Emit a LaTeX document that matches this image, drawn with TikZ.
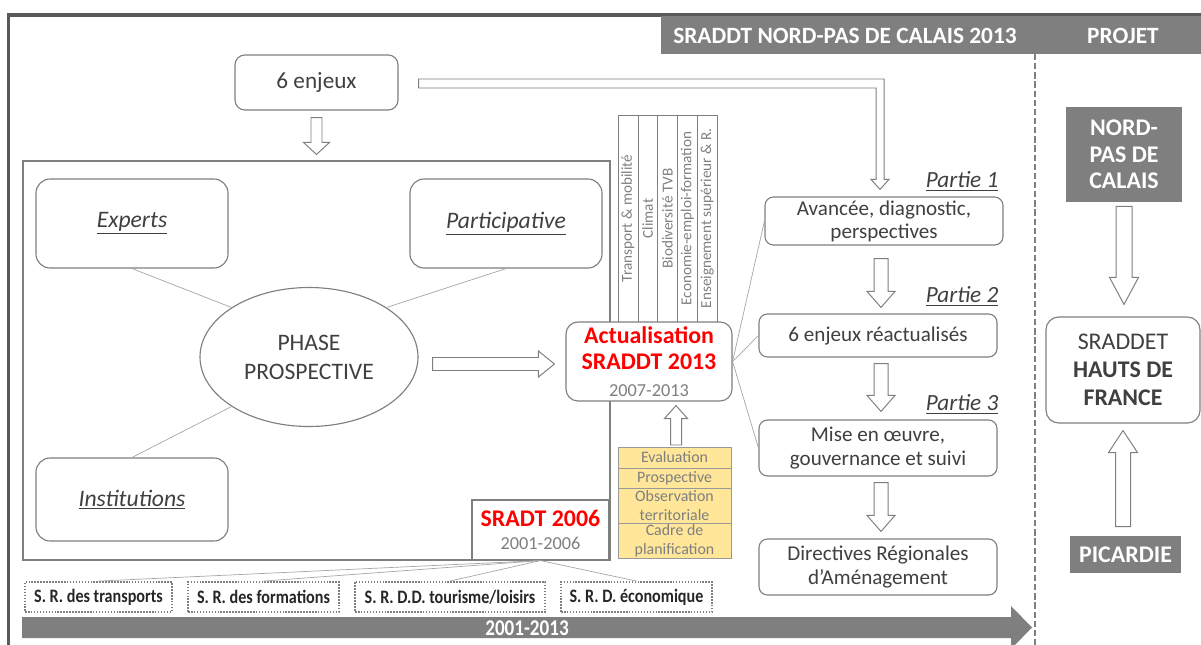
\documentclass[tikz,border=0pt]{standalone}
\usepackage{fontspec}
\setmainfont{Carlito}
\newfontfamily\narrowfont[FakeStretch=0.85]{Carlito}
\usetikzlibrary{positioning,calc,shapes.geometric}
\definecolor{sgray}{HTML}{7F7F7F}
\definecolor{sdark}{HTML}{404040}
\definecolor{sframe}{HTML}{595959}
\definecolor{sline}{HTML}{A6A6A6}
\definecolor{sred}{HTML}{FF0000}
\definecolor{syellow}{HTML}{FFE699}
\definecolor{sink}{HTML}{262626}
\newdimen\pxu \pxu=0.025cm
\tikzset{
  rbox/.style={draw=sgray,fill=white,rounded corners=6pt,line width=0.8pt,align=center,text=sdark,inner sep=2pt,font=\fontsize{15}{17}\selectfont},
  sbox/.style={draw=sgray,fill=white,line width=0.8pt,align=center,inner sep=2pt},
  ibox/.style={rbox,rounded corners=10pt,minimum width=192\pxu,font=\itshape\fontsize{16.8}{19}\selectfont},
  tabcol/.style={draw=sgray,rotate=90,minimum width=207\pxu,minimum height=19.8\pxu,inner sep=0pt,text=sgray,font=\fontsize{10.8}{12}\selectfont},
  ybox/.style={draw=sgray!80,fill=syellow,minimum width=113\pxu,inner sep=0pt,outer sep=0pt,align=center,text=sgray,font=\fontsize{11.3}{13.5}\selectfont},
  dbox/.style={draw=sgray,line width=1.3pt,dash pattern=on 1.1pt off 1pt,minimum height=30\pxu,inner sep=0pt,text=sink,font=\narrowfont\bfseries\fontsize{13.5}{15}\selectfont},
  dkbox/.style={fill=sgray,text=white,align=center,inner sep=0pt,font=\bfseries\fontsize{17}{19}\selectfont},
  partie/.style={anchor=east,inner sep=0pt,text=sdark,font=\itshape\fontsize{16.5}{19}\selectfont},
  hollow/.style={draw=sgray,fill=white,line width=0.7pt,line join=miter},
  link/.style={draw=sline,line width=0.5pt},
}
% hollow block arrow: from, to, shaft half width, head half width, head length (px)
\newcommand{\blockarr}[5]{%
  \coordinate (ba-s) at #1;
  \coordinate (ba-e) at #2;
  \coordinate (ba-h) at ($(ba-e)!#5*0.025cm!(ba-s)$);
  \draw[hollow] ($(ba-s)!#3*0.025cm!90:(ba-e)$) -- ($(ba-h)!#3*0.025cm!90:(ba-e)$)
    -- ($(ba-h)!#4*0.025cm!90:(ba-e)$) -- (ba-e) -- ($(ba-h)!#4*0.025cm!-90:(ba-e)$)
    -- ($(ba-h)!#3*0.025cm!-90:(ba-e)$) -- ($(ba-s)!#3*0.025cm!-90:(ba-e)$) -- cycle;}

\begin{document}
\begin{tikzpicture}[x=0.025cm,y=-0.025cm]
  \useasboundingbox (0,0) rectangle (1201,644);
  % frame and header
  \draw[sframe,line width=2.2pt] (8.5,660) -- (8.5,15) -- (1220,15);
  \fill[sgray] (661,16) rectangle (1201,54);
  \node[text=white,font=\bfseries\fontsize{16.6}{19}\selectfont] (hdr1) at (845,35.5) {SRADDT NORD-PAS DE CALAIS 2013};
  \node[text=white,font=\bfseries\fontsize{16.6}{19}\selectfont] (hdr2) at (1123,35.5) {PROJET};
  \draw[sgray,line width=1.4pt,dash pattern=on 4.5pt off 2pt] (1035,54) -- (1035,660);

  % left part
  \node[rbox,rounded corners=7pt,minimum width=163\pxu,minimum height=55\pxu,font=\fontsize{16.5}{19}\selectfont] (enjeux) at (316.5,82.5) {6 enjeux};
  \node[sbox,minimum width=587\pxu,minimum height=399\pxu] (prosp) at (316.5,360.5) {};
  \node[ibox,minimum height=89\pxu] (experts) at (132,223.5) {\underline{Experts}};
  \node[ibox,minimum height=89\pxu] (particip) at (506,223.5) {\underline{Participative}};
  \node[ibox,minimum height=83\pxu] (instit) at (132,499.5) {\underline{Institutions}};
  \node[ellipse,draw=sgray,fill=white,line width=0.8pt,minimum width=218\pxu,minimum height=139\pxu,align=center,text=sdark,font=\fontsize{16.8}{20.5}\selectfont] (phase) at (309,357) {PHASE\\PROSPECTIVE};
  \draw[link] (experts.south) -- (phase.north west);
  \draw[link] (particip.south) -- (phase.north east);
  \draw[link] (instit.north) -- (phase.south west);
  \node[sbox,minimum width=137\pxu,minimum height=60\pxu,font=\fontsize{17}{16.5}\selectfont] (sradt) at (540.5,530) {\textcolor{sred}{\bfseries SRADT 2006}\\\textcolor{sgray}{\fontsize{13}{15}\selectfont 2001-2006}};

  % themes and actualisation
  \foreach \t [count=\i] in {Transport \& mobilité,Climat,Biodiversité TVB,Economie-emploi-formation,Enseignement supérieur \& R.}
    \node[tabcol] (tab\i) at ({618+19.8*(\i-0.5)},218.5) {\t};
  \node[rbox,rounded corners=8.5pt,minimum width=166\pxu,minimum height=79\pxu,font=\fontsize{17}{19}\selectfont] (actu) at (649,361.5) {\textcolor{sred}{\bfseries Actualisation}\\\textcolor{sred}{\bfseries SRADDT 2013}\\\textcolor{sgray}{\fontsize{13}{15}\selectfont 2007-2013}};
  \node[ybox,minimum height=21\pxu] (y1) at (674.5,457.5) {Evaluation};
  \node[ybox,minimum height=20\pxu,below=0pt of y1] (y2) {Prospective};
  \node[ybox,minimum height=35\pxu,below=0pt of y2] (y3) {Observation\\territoriale};
  \node[ybox,minimum height=35\pxu,below=0pt of y3] (y4) {Cadre de\\planification};

  % schemas regionaux
  \node[dbox,minimum width=147\pxu] (d1) at (98.5,597) {S. R. des transports};
  \node[dbox,minimum width=151\pxu] (d2) at (263.5,597) {S. R. des formations};
  \node[dbox,minimum width=190\pxu] (d3) at (450,597) {S. R. D.D. tourisme/loisirs};
  \node[dbox,minimum width=151\pxu] (d4) at (636.5,597) {S. R. D. économique};
  \foreach \d in {d1,d2,d3,d4}
    \draw[link] (sradt.south) -- (\d.north);

  % parties
  \node[rbox,minimum width=238\pxu,minimum height=48\pxu,font=\fontsize{15}{16.5}\selectfont] (p1) at (884,221) {Avancée, diagnostic,\\perspectives};
  \node[rbox,minimum width=238\pxu,minimum height=43\pxu] (p2) at (878,335.5) {6 enjeux réactualisés};
  \node[rbox,minimum width=238\pxu,minimum height=56\pxu] (p3) at (878,448) {Mise en œuvre,\\gouvernance et suivi};
  \node[rbox,minimum width=238\pxu,minimum height=56\pxu] (p4) at (878,567) {Directives Régionales\\d’Aménagement};
  \node[partie] (lp1) at ($(p1.north east)+(-5,-15)$) {\underline{Partie 1}};
  \node[partie] (lp2) at ($(p2.north east)+(1,-17)$) {\underline{Partie 2}};
  \node[partie] (lp3) at ($(p3.north east)+(1,-15)$) {\underline{Partie 3}};
  \foreach \p in {p1,p2,p3}
    \draw[link] (actu.east) -- (\p.west);

  % projet
  \node[dkbox,minimum width=116\pxu,minimum height=95\pxu] (nord) at (1124,154.5) {NORD-\\PAS DE\\CALAIS};
  \node[rbox,rounded corners=9pt,minimum width=154\pxu,minimum height=106\pxu,font=\fontsize{17}{20}\selectfont] (sraddet) at (1123,370) {SRADDET\\\textbf{HAUTS DE}\\\textbf{FRANCE}};
  \node[dkbox,minimum width=111\pxu,minimum height=37\pxu] (picardie) at (1125.5,554.5) {PICARDIE};

  % block arrows
  \blockarr{($(enjeux.south)+(0,7)$)}{($(prosp.north)+(0,-6)$)}{5.5}{13}{12}
  \blockarr{($(phase.east)+(14,7)$)}{($(actu.west)+(-11,2.5)$)}{6.5}{13}{16}
  \blockarr{($(y1.north)+(1.5,-2)$)}{($(y1.north |- actu.south)+(1.5,4)$)}{5.5}{11.5}{13}
  \blockarr{($(p1.south)+(-3,13)$)}{($(p2.north)+(3,-6)$)}{7}{14}{16}
  \blockarr{($(p2.south)+(3,6)$)}{($(p3.north)+(3,-8)$)}{7}{14}{16}
  \blockarr{($(p3.south)+(3,6)$)}{($(p4.north)+(3,-7)$)}{7}{14}{16}
  \blockarr{($(nord.south)+(0,4)$)}{($(sraddet.north)+(1,-12)$)}{8}{14.5}{27}
  \blockarr{($(picardie.north)+(-2.5,-9)$)}{($(sraddet.south)+(0,7)$)}{7.5}{14.5}{22}
  \coordinate (bk) at ($(p1.north)+(-4,-7)$);
  \draw[hollow] ($(enjeux.east)+(20,-3.5)$) -- ($(bk |- enjeux.east)+(4,-3.5)$) -- ($(bk)+(4,-10)$)
    -- ($(bk)+(9,-10)$) -- (bk) -- ($(bk)+(-9,-10)$) -- ($(bk)+(-4,-10)$)
    -- ($(bk |- enjeux.east)+(-4,5.5)$) -- ($(enjeux.east)+(20,5.5)$) -- cycle;

  % time line
  \fill[sgray] (22,617) -- (1011,617) -- (1011,606) -- (1032,627.5) -- (1011,649) -- (1011,638) -- (22,638) -- cycle;
  \node[text=white,font=\narrowfont\bfseries\fontsize{16}{18}\selectfont] (period) at (527,628) {2001-2013};
\end{tikzpicture}
\end{document}
